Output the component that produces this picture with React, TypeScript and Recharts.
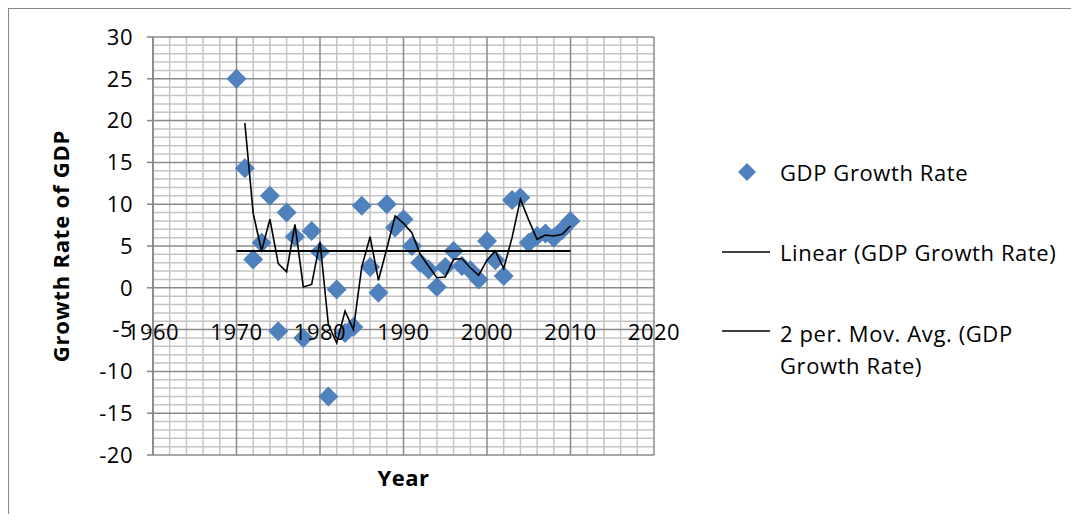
import React from "react"
import { ComposedChart, Scatter, Line, XAxis, YAxis, ReferenceLine, Legend } from "recharts"

const years = [
  1970, 1971, 1972, 1973, 1974, 1975, 1976, 1977, 1978, 1979,
  1980, 1981, 1982, 1983, 1984, 1985, 1986, 1987, 1988, 1989,
  1990, 1991, 1992, 1993, 1994, 1995, 1996, 1997, 1998, 1999,
  2000, 2001, 2002, 2003, 2004, 2005, 2006, 2007, 2008, 2009, 2010,
]

const growth = [
  25.0, 14.3, 3.4, 5.4, 11.0, -5.2, 9.0, 6.1, -6.0, 6.8,
  4.3, -13.0, -0.2, -5.4, -4.7, 9.8, 2.5, -0.6, 10.0, 7.2,
  8.2, 5.0, 3.0, 2.2, 0.1, 2.5, 4.4, 2.6, 2.1, 1.0,
  5.6, 3.3, 1.4, 10.5, 10.8, 5.4, 6.2, 6.5, 6.0, 6.9, 8.0,
]

// 2 per. moving average, 1971..2010
const movAvg = [
  19.7, 8.9, 4.4, 8.2, 2.9, 1.9, 7.6, 0.1, 0.4,
  5.5, -4.4, -6.6, -2.8, -5.0, 2.5, 6.1, 0.9, 4.7, 8.6,
  7.7, 6.6, 4.0, 2.6, 1.2, 1.3, 3.4, 3.5, 2.4, 1.5,
  3.3, 4.4, 2.3, 6.0, 10.6, 8.1, 5.8, 6.3, 6.2, 6.4, 7.4,
]

const trendYears = [1970, 2010]
const trendValues = [4.4, 4.4]

const xTicks = [1960, 1970, 1980, 1990, 2000, 2010, 2020]
const yTicks = [-20, -15, -10, -5, 0, 5, 10, 15, 20, 25, 30]

const seriesNames = ["GDP Growth Rate", "Linear (GDP Growth Rate)", "2 per. Mov. Avg. (GDP Growth Rate)"]

const BLUE = "#4F81BD"
const FS = 22
const LS = 0.5

const points = years.map((year, i) => ({ year, value: growth[i] }))
const maPoints = movAvg.map((value, i) => ({ year: years[i + 1], value }))
const trendPoints = trendYears.map((year, i) => ({ year, value: trendValues[i] }))

const minorY: number[] = []
for (let v = -20; v <= 30; v++) if (v % 5 !== 0) minorY.push(v)
const minorX: number[] = []
for (let v = 1962; v < 2020; v += 2) if (v % 10 !== 0) minorX.push(v)

function Diamond(props: any) {
  const { cx, cy } = props
  const r = 10
  return <polygon points={`${cx},${cy - r} ${cx + r},${cy} ${cx},${cy + r} ${cx - r},${cy}`} fill={BLUE} />
}

function XTick(props: any) {
  const { x, y, payload } = props
  return (
    <text x={x} y={y - 124} textAnchor="middle" dominantBaseline="central" fontSize={FS} letterSpacing={LS} fill="#000">
      {payload.value}
    </text>
  )
}

function LegendBox() {
  const txt: React.CSSProperties = { position: "absolute", left: 72, fontSize: FS, letterSpacing: 0.6, color: "#000", lineHeight: "32px", whiteSpace: "nowrap" }
  return (
    <div style={{ position: "relative", width: 360, height: 260 }}>
      <svg style={{ position: "absolute", left: 0, top: 0 }} width={80} height={260}>
        <polygon points="39,25 48,34 39,43 30,34" fill={BLUE} />
        <line x1={14} x2={62} y1={114} y2={114} stroke="#000" strokeWidth={1.5} />
        <line x1={14} x2={62} y1={193} y2={193} stroke="#000" strokeWidth={1.5} />
      </svg>
      <div style={{ ...txt, top: 18 }}>{seriesNames[0]}</div>
      <div style={{ ...txt, top: 98 }}>{seriesNames[1]}</div>
      <div style={{ ...txt, top: 179 }}>
        2 per. Mov. Avg. (GDP
        <br />
        Growth Rate)
      </div>
    </div>
  )
}

export default function App() {
  return (
    <div
      style={{
        position: "relative",
        width: 1063,
        height: 506,
        borderLeft: "1px solid #868686",
        borderTop: "1px solid #868686",
        boxSizing: "border-box",
        fontFamily: "'Open Sans', sans-serif",
      }}
    >
      <div style={{ position: "absolute", left: -1, top: -1 }}>
        <ComposedChart width={1063} height={506} margin={{ top: 29, right: 57, bottom: 29, left: 85 }}>
          {minorY.map((v) => (
            <ReferenceLine key={"my" + v} y={v} stroke="#c4c4c4" strokeWidth={1.5} zIndex={-100} />
          ))}
          {minorX.map((v) => (
            <ReferenceLine key={"mx" + v} x={v} stroke="#c4c4c4" strokeWidth={1.5} zIndex={-100} />
          ))}
          {yTicks.map((v) => (
            <ReferenceLine key={"Y" + v} y={v} stroke="#8a8a8a" strokeWidth={1.5} zIndex={-90} />
          ))}
          {xTicks.map((v) => (
            <ReferenceLine key={"X" + v} x={v} stroke="#8a8a8a" strokeWidth={1.5} zIndex={-90} />
          ))}
          <XAxis
            type="number"
            dataKey="year"
            domain={[1960, 2020]}
            ticks={xTicks}
            height={30}
            axisLine={false}
            tickLine={false}
            tickSize={0}
            tickMargin={0}
            tick={<XTick />}
            interval={0}
            label={{
              content: (p: any) => {
                const vb = p.viewBox
                return (
                  <text x={vb.x + vb.width / 2} y={vb.y + 22} textAnchor="middle" dominantBaseline="central" fontSize={FS} letterSpacing={LS} fontWeight="bold" fill="#000">
                    Year
                  </text>
                )
              },
            }}
          />
          <YAxis
            type="number"
            dataKey="value"
            domain={[-20, 30]}
            ticks={yTicks}
            width={60}
            interval={0}
            axisLine={{ stroke: "#868686", strokeWidth: 1.5 }}
            tickLine={{ stroke: "#868686", strokeWidth: 1.5 }}
            tickSize={6}
            tickMargin={14}
            tick={{ fontSize: FS, fill: "#000", letterSpacing: LS }}
            label={{
              content: (p: any) => {
                const vb = p.viewBox
                const cx = vb.x - 33
                const cy = vb.y + vb.height / 2
                return (
                  <text x={cx} y={cy} transform={`rotate(-90, ${cx}, ${cy})`} textAnchor="middle" dominantBaseline="central" fontSize={FS} letterSpacing={0.8} fontWeight="bold" fill="#000">
                    Growth Rate of GDP
                  </text>
                )
              },
            }}
          />
          <Scatter name={seriesNames[0]} data={points} dataKey="value" fill={BLUE} shape={<Diamond />} zIndex={350} isAnimationActive={false} />
          <Line name={seriesNames[1]} data={trendPoints} dataKey="value" type="linear" stroke="#000" strokeWidth={2} dot={false} activeDot={false} isAnimationActive={false} />
          <Line name={seriesNames[2]} data={maPoints} dataKey="value" type="linear" stroke="#000" strokeWidth={1.6} dot={false} activeDot={false} isAnimationActive={false} />
          <Legend
            layout="vertical"
            align="right"
            verticalAlign="top"
            content={<LegendBox />}
            wrapperStyle={{ position: "absolute", left: 700, top: 130, width: 360, height: 260 }}
          />
        </ComposedChart>
      </div>
    </div>
  )
}
